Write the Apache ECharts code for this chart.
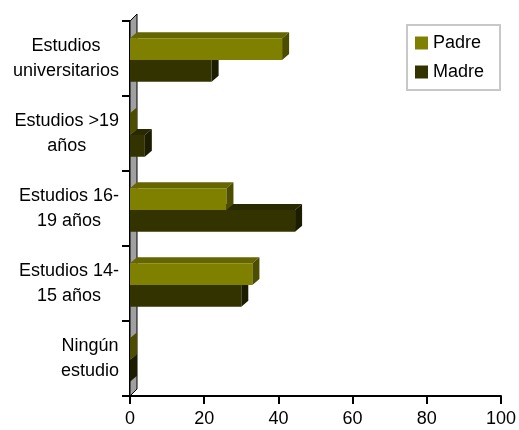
<!DOCTYPE html>
<html>
<head>
<meta charset="utf-8">
<script src="https://cdn.jsdelivr.net/npm/echarts@6/dist/echarts.min.js"></script>
<style>
  html, body { margin: 0; padding: 0; background: #fff; }
  #chart { width: 519px; height: 430px; }
</style>
</head>
<body>
<div id="chart"></div>
<script>
// categories listed bottom to top (category axis starts at the bottom)
const categories = ['Ningún\nestudio', 'Estudios 14-\n15 años', 'Estudios 16-\n19 años', 'Estudios >19\naños', 'Estudios\nuniversitarios'];
const padre = [0, 33, 26, 0, 41];
const madre = [0, 30, 44.5, 4, 22];
const xTicks = [0, 20, 40, 60, 80, 100];

const FONT = "'Liberation Sans', Arial, sans-serif";
const FS = 18;
const GRID = { left: 130, right: 18, top: 21, bottom: 34 };
const DX = 7, DY = 6; // 3d depth offset

// draws a pseudo-3d bar: front face, top face and right side face
function bar3d(colors, shift) {
    return function (params, api) {
        const idx = api.value(1);
        const base = api.coord([0, idx]);
        const end = api.coord([api.value(0), idx]);
        const band = api.size([0, 1])[1];
        const h = band * 0.29;
        const y0 = base[1] + band * 0.02 + shift * h;
        const x0 = base[0], x1 = end[0];
        return {
            type: 'group',
            children: [
                { type: 'polygon', shape: { points: [[x0, y0], [x0 + DX, y0 - DY], [x1 + DX, y0 - DY], [x1, y0]] }, style: { fill: colors[1] } },
                { type: 'rect', shape: { x: x0, y: y0, width: x1 - x0, height: h }, style: { fill: colors[0] } },
                { type: 'polygon', shape: { points: [[x1, y0], [x1 + DX, y0 - DY], [x1 + DX, y0 + h - DY], [x1, y0 + h]] }, style: { fill: colors[2] } }
            ]
        };
    };
}

const chart = echarts.init(document.getElementById('chart'));

const gTop = GRID.top, gBottom = 430 - GRID.bottom, gLeft = GRID.left;

chart.setOption({
    backgroundColor: '#fff',
    animation: false,
    textStyle: { fontFamily: FONT },
    grid: { left: GRID.left, right: GRID.right, top: GRID.top, bottom: GRID.bottom, containLabel: false },
    legend: {
        data: ['Padre', 'Madre'],
        orient: 'vertical',
        left: 407,
        top: 25,
        padding: [9, 16, 9, 8],
        itemGap: 11,
        itemWidth: 13,
        itemHeight: 13,
        icon: 'rect',
        borderColor: '#c8c8c8',
        borderWidth: 2,
        textStyle: { fontSize: FS, color: '#000', fontFamily: FONT }
    },
    xAxis: {
        type: 'value',
        min: 0,
        max: 100,
        interval: 20,
        axisLine: { show: true, lineStyle: { color: '#000', width: 2 } },
        axisTick: { show: true, length: 8, lineStyle: { color: '#000', width: 2 } },
        splitLine: { show: false },
        axisLabel: {
            fontSize: FS, color: '#000', margin: 14, fontFamily: FONT,
            formatter: v => xTicks.indexOf(v) >= 0 ? String(v) : ''
        }
    },
    yAxis: {
        type: 'category',
        data: categories,
        axisLine: { show: true, lineStyle: { color: '#000', width: 2 } },
        axisTick: { show: true, length: 8, lineStyle: { color: '#000', width: 2 } },
        axisLabel: {
            margin: 11,
            color: '#000',
            formatter: v => v.split('\n').map(s => '{c|' + s + '}').join('\n'),
            rich: { c: { align: 'center', fontSize: FS, lineHeight: 25, color: '#000', fontFamily: FONT } }
        }
    },
    graphic: [{
        type: 'polygon',
        z: 1,
        shape: { points: [[gLeft, gTop], [gLeft + DX, gTop - DX], [gLeft + DX, gBottom - DX], [gLeft, gBottom]] },
        style: { fill: '#a0a0a0', stroke: '#000', lineWidth: 1 }
    }],
    series: [
        {
            name: 'Madre',
            type: 'custom',
            z: 3,
            itemStyle: { color: '#333300' },
            renderItem: bar3d(['#333300', '#292900', '#1c1c00'], 0),
            encode: { x: 0, y: 1 },
            data: madre.map((v, i) => [v, i])
        },
        {
            name: 'Padre',
            type: 'custom',
            z: 4,
            itemStyle: { color: '#808000' },
            renderItem: bar3d(['#808000', '#666600', '#4d4d00'], -1),
            encode: { x: 0, y: 1 },
            data: padre.map((v, i) => [v, i])
        }
    ]
});
</script>
</body>
</html>
